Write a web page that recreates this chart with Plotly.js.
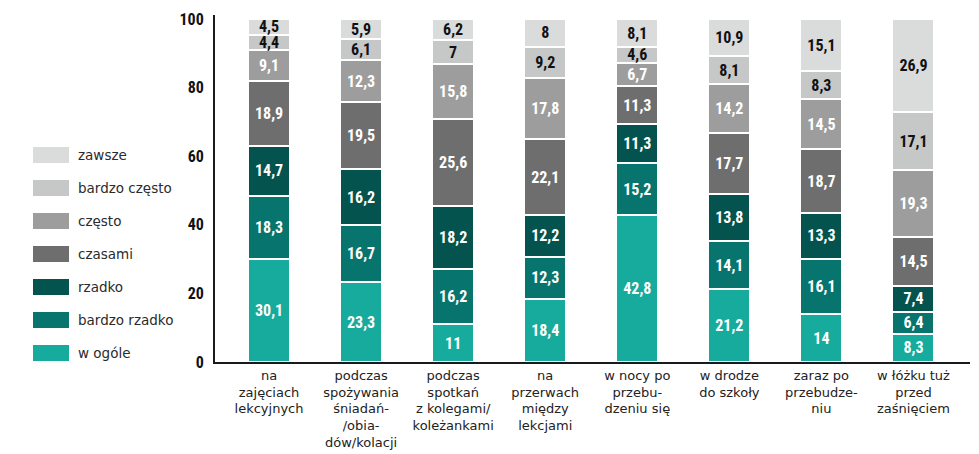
<!DOCTYPE html>
<html><head><meta charset="utf-8">
<script src="https://cdn.plot.ly/plotly-3.0.1.min.js"></script>
<style>html,body{margin:0;padding:0;background:#fff}#chart{width:979px;height:454px}</style>
</head><body><div id="chart"></div>
<script>
const categories = ['na<br>zajęciach<br>lekcyjnych', 'podczas<br>spożywania<br>śniadań-<br>/obia-<br>dów/kolacji', 'podczas<br>spotkań<br>z kolegami/<br>koleżankami', 'na<br>przerwach<br>między<br>lekcjami', 'w nocy po<br>przebu-<br>dzeniu się', 'w drodze<br>do szkoły', 'zaraz po<br>przebudze-<br>niu', 'w łóżku tuż<br>przed<br>zaśnięciem'];
const seriesNames = ['w ogóle', 'bardzo rzadko', 'rzadko', 'czasami', 'często', 'bardzo często', 'zawsze'];
const wOgole = [30.1, 23.3, 11, 18.4, 42.8, 21.2, 14, 8.3];
const bardzoRzadko = [18.3, 16.7, 16.2, 12.3, 15.2, 14.1, 16.1, 6.4];
const rzadko = [14.7, 16.2, 18.2, 12.2, 11.3, 13.8, 13.3, 7.4];
const czasami = [18.9, 19.5, 25.6, 22.1, 11.3, 17.7, 18.7, 14.5];
const czesto = [9.1, 12.3, 15.8, 17.8, 6.7, 14.2, 14.5, 19.3];
const bardzoCzesto = [4.4, 6.1, 7, 9.2, 4.6, 8.1, 8.3, 17.1];
const zawsze = [4.5, 5.9, 6.2, 8, 8.1, 10.9, 15.1, 26.9];
const yTicks = [0, 20, 40, 60, 80, 100];

const seriesValues = [wOgole, bardzoRzadko, rzadko, czasami, czesto, bardzoCzesto, zawsze];
const colors = ['#16ab9c', '#07746d', '#04534e', '#6e6e6e', '#9d9d9d', '#c6c7c7', '#dadbdb'];
const textColors = ['#ffffff', '#ffffff', '#ffffff', '#ffffff', '#ffffff', '#111111', '#111111'];
const numFont = "'Liberation Sans Narrow', 'Roboto Condensed', 'DejaVu Sans Condensed', Roboto, sans-serif";
const labelFont = "'DejaVu Sans', 'Noto Sans', sans-serif";

const traces = seriesValues.map((vals, i) => ({
  type: 'bar',
  name: seriesNames[i],
  x: categories,
  y: vals,
  text: vals.map(v => String(v).replace('.', ',')),
  textposition: 'inside',
  insidetextanchor: 'middle',
  constraintext: 'none',
  textangle: 0,
  textfont: {family: numFont, size: 16, weight: 'bold', color: textColors[i]},
  marker: {color: colors[i], line: {color: '#ffffff', width: 2}},
  hoverinfo: 'skip',
  showlegend: false
}));

// custom legend (pixel geometry of the reference)
const plotL = 215, plotR = 970, plotT = 15, plotB = 362;
const px = p => (p - plotL) / (plotR - plotL);
const py = p => (plotB - p) / (plotB - plotT);
const shapes = [];
const annotations = [];
const legendOrder = seriesNames.slice().reverse();
const legendColors = colors.slice().reverse();
legendOrder.forEach((name, k) => {
  const cy = 155 + k * 33;
  shapes.push({type: 'rect', xref: 'paper', yref: 'paper', x0: px(33), x1: px(69), y0: py(cy + 8), y1: py(cy - 8),
    fillcolor: legendColors[k], line: {width: 0}});
  annotations.push({xref: 'paper', yref: 'paper', x: px(76), y: py(cy), xanchor: 'left', yanchor: 'middle',
    text: name, showarrow: false, font: {family: labelFont, size: 13.5, color: '#2b2b2b'}});
});

const layout = {
  width: 979, height: 454,
  margin: {l: plotL, r: 979 - plotR, t: plotT, b: 454 - plotB},
  paper_bgcolor: '#ffffff', plot_bgcolor: '#ffffff',
  barmode: 'stack',
  bargap: 0.544,
  showlegend: false,
  xaxis: {
    type: 'category',
    range: [-0.587, 7.614],
    showline: true, linecolor: '#1a1a1a', linewidth: 2,
    showgrid: false, zeroline: false, ticks: '',
    tickfont: {family: labelFont, size: 13, color: '#222222'},
    fixedrange: true
  },
  yaxis: {
    range: [0, 101.2],
    tickvals: yTicks, ticktext: yTicks.map(String),
    showline: true, linecolor: '#1a1a1a', linewidth: 2,
    showgrid: false, zeroline: false, ticks: '',
    ticklabelstandoff: 6,
    tickfont: {family: numFont, size: 16, weight: 'bold', color: '#111111'},
    fixedrange: true
  },
  shapes: shapes,
  annotations: annotations
};

Plotly.newPlot('chart', traces, layout, {displayModeBar: false, staticPlot: true});
</script>
</body></html>
